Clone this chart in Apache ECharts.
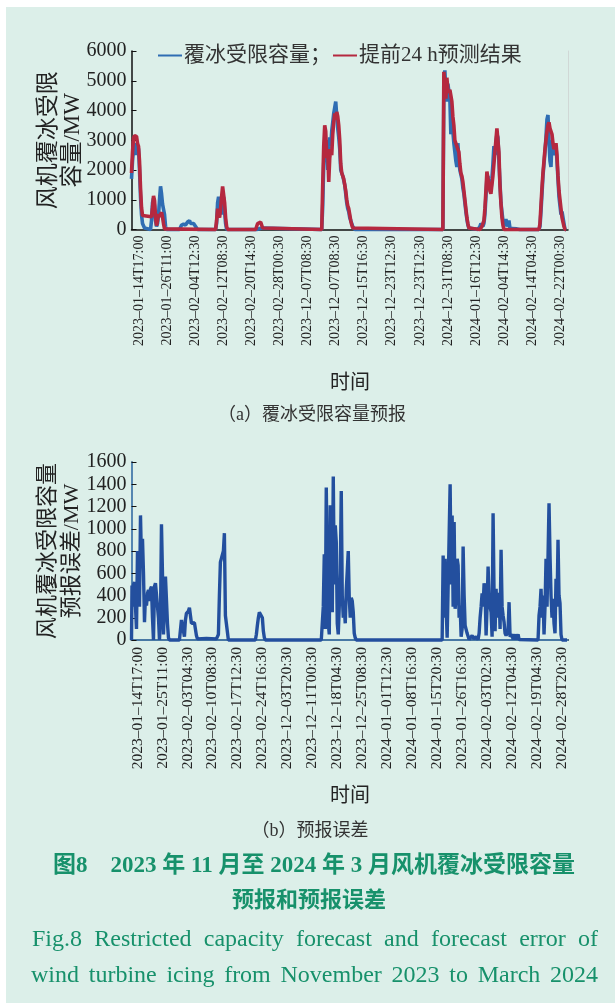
<!DOCTYPE html>
<html>
<head>
<meta charset="utf-8">
<script src="https://cdn.jsdelivr.net/npm/echarts@6/dist/echarts.min.js"></script>
<style>
html,body{margin:0;padding:0;background:#ffffff;}
#bg{position:absolute;left:6px;top:7px;width:609px;height:996px;background:#dcefe9;}
#chart{position:absolute;left:0;top:0;width:615px;height:1003px;}
</style>
</head>
<body>
<div id="bg"></div>
<div id="chart"></div>
<script>
// ---------- data (sample index, MW) ----------
const topTickLabels = ['2023–01–14T17:00','2023–01–26T11:00','2023–02–04T12:30','2023–02–12T08:30','2023–02–20T14:30','2023–02–28T00:30','2023–12–07T08:30','2023–12–07T08:30','2023–12–15T16:30','2023–12–23T12:30','2023–12–23T12:30','2024–12–31T08:30','2024–01–16T12:30','2024–02–04T14:30','2024–02–14T04:30','2024–02–22T00:30'];
const bottomTickLabels = ['2023–01–14T17:00','2023–01–25T11:00','2023–02–03T04:30','2023–02–10T08:30','2023–02–17T12:30','2023–02–24T16:30','2023–12–03T20:30','2023–12–11T00:30','2023–12–18T04:30','2023–12–25T08:30','2024–01–01T12:30','2024–01–08T16:30','2024–01–15T20:30','2023–01–26T16:30','2024–02–03T02:30','2024–02–12T04:30','2024–02–19T04:30','2024–02–28T20:30'];

const capActual = [[0,1700],[1,2300],[2,2700],[3,2900],[4,2500],[5,2900],[6,2950],[7,2700],[8,2000],[9,1100],[10,500],[11,200],[12,150],[13,50],[14,0],[19,0],[20,300],[21,900],[22,1050],[23,800],[24,300],[25,100],[26,200],[27,500],[28,1000],[29,1450],[30,1200],[31,850],[32,900],[33,500],[34,100],[35,0],[48,0],[50,150],[52,180],[54,150],[56,250],[58,300],[59,200],[60,150],[62,200],[64,100],[66,0],[84,0],[85,200],[86,900],[87,1100],[88,1150],[89,800],[90,500],[91,900],[92,1100],[93,600],[94,200],[95,0],[125,0],[126,50],[130,50],[131,0],
[190,0],[191,800],[192,2200],[193,3000],[194,2900],[195,3000],[196,2000],[197,2500],[198,3100],[199,2800],[200,3300],[201,3600],[202,3900],[203,4100],[204,4300],[205,3800],[206,3400],[207,3100],[208,2700],[209,2000],[210,1950],[211,1800],[212,1750],[213,1500],[214,1200],[215,900],[216,700],[217,600],[218,400],[219,300],[220,200],[221,100],[222,50],[223,0],
[311,0],[312,4800],[313,5350],[314,4600],[315,4300],[316,4900],[317,4850],[318,4400],[319,3200],[320,4000],[321,3300],[322,2900],[323,2600],[324,2300],[325,2100],[326,2900],[327,2300],[328,2000],[329,1950],[330,1700],[331,1400],[332,1200],[333,900],[334,600],[335,350],[336,150],[337,50],[338,0],
[346,0],[348,100],[349,200],[350,150],[351,100],[352,200],[353,500],[354,1100],[355,1700],[356,1800],[357,1400],[358,1600],[359,1300],[360,1700],[361,2200],[362,2800],[363,2500],[364,2900],[365,3200],[366,3100],[367,2300],[368,1600],[369,900],[370,600],[371,300],[372,250],[373,150],[374,350],[375,100],[376,50],[377,300],[378,50],[380,30],[385,20],[388,0],
[407,0],[408,100],[409,600],[410,1200],[411,1800],[412,2200],[413,2600],[414,3100],[415,3700],[416,3850],[417,3000],[418,2300],[419,2100],[420,3000],[421,2700],[422,2500],[423,2700],[424,2800],[425,2300],[426,1700],[427,1100],[428,800],[429,500],[430,600],[431,550],[432,200],[433,0],[434,0]];

const capForecast = [[0,1900],[1,2600],[2,3080],[3,3150],[4,3190],[5,3130],[6,2900],[7,2800],[8,2300],[9,1400],[10,740],[11,470],[12,430],[20,430],[21,740],[22,1130],[23,970],[24,410],[25,130],[26,300],[27,520],[28,430],[29,410],[30,580],[31,410],[32,190],[33,20],[34,0],
[84,0],[85,300],[86,700],[87,500],[88,400],[89,700],[90,1100],[91,1450],[92,1500],[93,900],[94,400],[95,100],[96,0],[124,0],[125,100],[126,200],[127,250],[129,250],[130,150],[131,50],[132,0],
[190,0],[191,1500],[192,2800],[193,3500],[194,3300],[195,2400],[196,2700],[197,1600],[198,2400],[199,2700],[200,2500],[201,3200],[202,3600],[203,3900],[204,3700],[205,3950],[206,3800],[207,3500],[208,3000],[209,2200],[210,1900],[211,1850],[212,1700],[213,1500],[214,1300],[215,1000],[216,800],[217,700],[218,500],[219,300],[220,150],[221,50],[222,0],
[311,0],[312,5300],[313,5250],[314,4400],[315,5100],[316,4700],[317,4600],[318,4700],[319,4500],[320,4300],[321,3800],[322,3500],[323,3000],[324,2900],[325,2800],[326,2750],[327,2600],[328,2200],[329,1900],[330,1800],[331,1600],[332,1300],[333,1000],[334,700],[335,400],[336,200],[337,50],[338,0],
[348,0],[350,100],[352,300],[353,700],[354,1300],[355,1950],[356,1900],[357,1500],[358,1300],[359,1200],[360,1500],[361,1800],[362,2200],[363,2600],[364,3000],[365,3400],[366,3450],[367,2600],[368,1500],[369,900],[370,400],[371,150],[372,0],
[407,0],[408,200],[409,800],[410,1400],[411,1900],[412,2300],[413,2700],[414,3000],[415,3300],[416,3500],[417,3600],[418,3400],[419,3300],[420,3200],[421,2900],[422,2700],[423,2800],[424,2900],[425,2500],[426,1800],[427,1300],[428,1000],[429,700],[430,400],[431,250],[432,100],[433,0],[434,0]];

const forecastError = [[0,0],[0.5,490],[1,300],[2,500],[3,520],[4,300],[5,100],[6,800],[7,810],[8,300],[9,1120],[10,700],[11,910],[12,600],[13,160],[14,400],[15,310],[16,420],[17,450],[18,350],[19,460],[20,480],[21,200],[22,0],[23,480],[24,510],[25,510],[26,500],[27,200],[28,0],[29,200],[30,1040],[31,600],[32,50],[33,300],[34,570],[35,560],[36,150],[37,20],[38,0],
[48,0],[50,180],[51,180],[52,180],[53,30],[54,180],[55,240],[56,250],[57,260],[58,290],[59,300],[60,150],[61,160],[62,160],[63,155],[64,150],[65,40],[66,10],[75,15],[85,10],[87,50],[88,400],[89,700],[90,700],[91,710],[92,800],[93,960],[94,220],[95,230],[96,220],[97,0],
[124,0],[125,50],[126,130],[127,200],[128,250],[129,260],[130,250],[131,200],[132,80],[133,20],[134,0],
[190,0],[191,10],[192,300],[193,770],[194,100],[195,1370],[196,600],[197,150],[198,50],[199,1210],[200,400],[201,250],[202,1470],[203,500],[204,1030],[205,880],[206,150],[207,50],[208,300],[209,600],[210,1340],[211,400],[212,200],[213,300],[214,150],[215,450],[216,620],[217,800],[218,380],[219,200],[220,380],[221,350],[222,250],[223,60],[224,20],[225,0],
[311,0],[312,760],[313,200],[314,730],[315,300],[316,20],[318,20],[319,1400],[320,500],[321,1120],[322,300],[323,1060],[324,280],[325,400],[326,730],[327,670],[328,200],[329,310],[330,30],[331,100],[332,840],[333,400],[334,130],[335,130],[336,60],[337,50],[338,5],[341,40],[343,10],[345,30],[347,5],
[348,60],[349,200],[350,300],[351,420],[352,300],[353,510],[354,420],[355,40],[356,300],[357,660],[358,400],[359,300],[360,250],[361,30],[362,1140],[363,400],[364,80],[365,460],[366,200],[367,400],[368,420],[369,100],[370,810],[371,300],[372,220],[373,160],[374,60],[375,40],[377,80],[378,340],[379,30],[381,50],[382,5],[384,50],[385,5],[387,50],[388,5],[390,0],
[407,0],[408,220],[409,300],[410,460],[411,200],[412,400],[413,50],[414,300],[415,730],[416,300],[417,750],[418,1230],[419,760],[420,400],[421,200],[422,370],[423,150],[424,60],[425,550],[426,300],[427,900],[428,400],[429,330],[430,50],[431,0],[436,0]];

// ---------- layout helpers ----------
const serif = "'Liberation Serif','Noto Sans CJK SC'";
const topTickPos = topTickLabels.map((_, i) => 8 + 28 * i);
const botTickPos = bottomTickLabels.map((_, i) => 6 + 25 * i);
function lookup(pos, labels) {
  return v => { const i = pos.findIndex(p => Math.abs(p - v) < 0.01); return i >= 0 ? labels[i] : ''; };
}
const plain = v => String(v);

const chart = echarts.init(document.getElementById('chart'), null, {renderer: 'canvas'});

const green = '#17916b';
function justified(text, y, x0, x1, font, color) {
  const words = text.split(' ');
  const ctx = document.createElement('canvas').getContext('2d');
  ctx.font = font;
  const w = words.map(t => ctx.measureText(t).width);
  const total = w.reduce((a, b) => a + b, 0);
  const gap = (x1 - x0 - total) / (words.length - 1);
  let x = x0;
  return words.map((t, i) => {
    const el = {type: 'text', x: x, y: y, style: {text: t, font: font, fill: color, textAlign: 'left', textVerticalAlign: 'middle'}};
    x += w[i] + gap;
    return el;
  });
}

const engFont = "24px 'Liberation Serif'";
const graphics = [
  {type: 'text', x: 350, y: 381, style: {text: '时间', font: "20px 'Noto Sans CJK SC'", fill: '#222', textAlign: 'center', textVerticalAlign: 'middle'}},
  {type: 'text', x: 312, y: 415, style: {text: '（a）覆冰受限容量预报', font: "18px " + serif, fill: '#333', textAlign: 'center', textVerticalAlign: 'middle'}},
  {type: 'text', x: 350, y: 794, style: {text: '时间', font: "20px 'Noto Sans CJK SC'", fill: '#222', textAlign: 'center', textVerticalAlign: 'middle'}},
  {type: 'text', x: 310, y: 831, style: {text: '（b）预报误差', font: "18px " + serif, fill: '#333', textAlign: 'center', textVerticalAlign: 'middle'}},
  {type: 'text', x: 314, y: 866, style: {text: '图8　2023 年 11 月至 2024 年 3 月风机覆冰受限容量', font: "bold 23px " + serif, fill: green, textAlign: 'center', textVerticalAlign: 'middle'}},
  {type: 'text', x: 309, y: 901, style: {text: '预报和预报误差', font: "bold 22px " + serif, fill: green, textAlign: 'center', textVerticalAlign: 'middle'}}
].concat(
  justified('Fig.8 Restricted capacity forecast and forecast error of', 940, 32, 598, engFont, green),
  justified('wind turbine icing from November 2023 to March 2024', 976, 31, 598, engFont, green)
);

const option = {
  animation: false,
  backgroundColor: 'transparent',
  textStyle: {fontFamily: serif},
  legend: {
    left: 153, top: 40, itemWidth: 24, itemHeight: 2, itemGap: 2, icon: 'rect',
    textStyle: {fontSize: 21, color: '#333', fontFamily: serif, padding: [0, 0, 0, -3]},
    data: ['覆冰受限容量；', '提前24 h预测结果']
  },
  grid: [
    {left: 131.5, width: 436.5, top: 51, height: 178.5},
    {left: 131.5, width: 436.5, top: 462, height: 178}
  ],
  xAxis: [
    {type: 'value', gridIndex: 0, min: 0, max: 436, splitLine: {show: false},
     axisLine: {lineStyle: {color: '#111', width: 1.5}}, axisTick: {show: false},
     axisLabel: {customValues: topTickPos, formatter: lookup(topTickPos, topTickLabels), rotate: 90, fontSize: 14, color: '#222', margin: 6, fontFamily: "'Liberation Serif'"}},
    {type: 'value', gridIndex: 1, min: 0, max: 437, splitLine: {show: false},
     axisLine: {lineStyle: {color: '#111', width: 2}}, axisTick: {show: false},
     axisLabel: {customValues: botTickPos, formatter: lookup(botTickPos, bottomTickLabels), rotate: 90, fontSize: 15.5, color: '#222', margin: 7, fontFamily: "'Liberation Serif'"}},
    {type: 'value', gridIndex: 1, position: 'top', min: 0, max: 437, splitLine: {show: false},
     axisLine: {lineStyle: {color: '#5b9bd5', width: 1.5}}, axisTick: {show: false}, axisLabel: {show: false}}
  ],
  yAxis: [
    {type: 'value', gridIndex: 0, min: 0, max: 6000, interval: 1000, splitLine: {show: false},
     axisLine: {show: true, lineStyle: {color: '#111', width: 1.5}},
     axisTick: {show: true, inside: true, length: 5, lineStyle: {color: '#111'}},
     axisLabel: {fontSize: 20, color: '#222', margin: 5, formatter: plain, fontFamily: "'Liberation Serif'"},
     name: '风机覆冰受限\n容量/MW', nameLocation: 'middle', nameRotate: 90, nameGap: 47, nameMoveOverlap: false,
     nameTextStyle: {fontSize: 23, color: '#222', lineHeight: 24, fontFamily: serif}},
    {type: 'value', gridIndex: 0, position: 'right', min: 0, max: 6000, splitLine: {show: false},
     axisLine: {show: true, lineStyle: {color: '#d0d8d6', width: 1}}, axisTick: {show: false}, axisLabel: {show: false}},
    {type: 'value', gridIndex: 1, min: 0, max: 1600, interval: 200, splitLine: {show: false},
     axisLine: {show: true, lineStyle: {color: '#111', width: 1.5}},
     axisTick: {show: true, inside: true, length: 5, lineStyle: {color: '#111'}},
     axisLabel: {fontSize: 20, color: '#222', margin: 5, formatter: plain, fontFamily: "'Liberation Serif'"},
     name: '风机覆冰受限容量\n预报误差/MW', nameLocation: 'middle', nameRotate: 90, nameGap: 47, nameMoveOverlap: false,
     nameTextStyle: {fontSize: 22, color: '#222', lineHeight: 24, fontFamily: serif}},
    {type: 'value', gridIndex: 1, position: 'right', min: 0, max: 1600, splitLine: {show: false},
     axisLine: {show: true, lineStyle: {color: '#5b9bd5', width: 1.5}}, axisTick: {show: false}, axisLabel: {show: false}}
  ],
  series: [
    {name: '覆冰受限容量；', type: 'line', xAxisIndex: 0, yAxisIndex: 0, data: capActual, showSymbol: false, clip: false,
     lineStyle: {color: '#2f6db3', width: 3.6}, itemStyle: {color: '#2f6db3'}},
    {name: '提前24 h预测结果', type: 'line', xAxisIndex: 0, yAxisIndex: 0, data: capForecast, showSymbol: false, clip: false,
     lineStyle: {color: '#b5283f', width: 3.6}, itemStyle: {color: '#b5283f'}},
    {name: 'error', type: 'line', xAxisIndex: 1, yAxisIndex: 2, data: forecastError, showSymbol: false, clip: false,
     lineStyle: {color: '#234f9e', width: 3.4}, itemStyle: {color: '#234f9e'}}
  ],
  graphic: graphics
};
chart.setOption(option);
</script>
</body>
</html>
